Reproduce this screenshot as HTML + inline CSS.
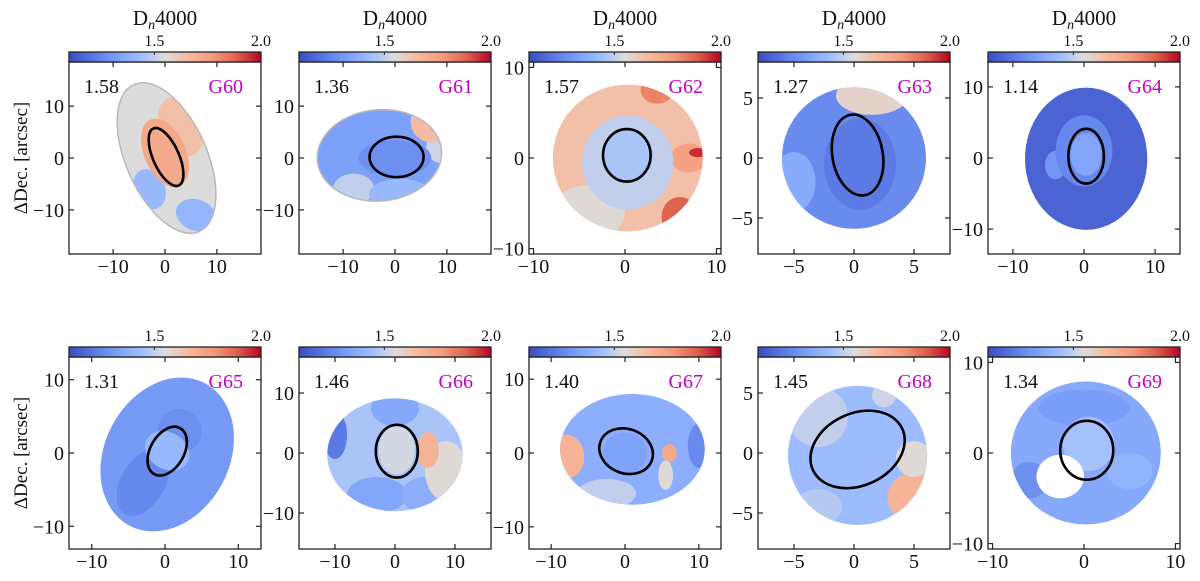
<!DOCTYPE html>
<html><head><meta charset="utf-8">
<style>
html,body{margin:0;padding:0;background:#fff;}
svg{display:block;font-family:"Liberation Serif","DejaVu Serif",serif;}
</style></head>
<body>
<svg id="fig" width="1200" height="581" viewBox="0 0 1200 581" xmlns="http://www.w3.org/2000/svg">
<defs>
<linearGradient id="cw" x1="0" x2="1" y1="0" y2="0">
<stop offset="0" stop-color="#3b4cc0"/><stop offset="0.125" stop-color="#5977e3"/>
<stop offset="0.25" stop-color="#7b9ff9"/><stop offset="0.375" stop-color="#9ebeff"/>
<stop offset="0.5" stop-color="#dddcdc"/><stop offset="0.625" stop-color="#f7b89c"/>
<stop offset="0.75" stop-color="#f49a7b"/><stop offset="0.875" stop-color="#de604d"/>
<stop offset="1" stop-color="#b40426"/>
</linearGradient>
</defs>
</svg>
<script>
const galaxyNames=["G60","G61","G62","G63","G64","G65","G66","G67","G68","G69"];
const medianValues=["1.58","1.36","1.57","1.27","1.14","1.31","1.46","1.40","1.45","1.34"];
const axisLimits=[18.5,18.5,10.5,8,13.5,13.1,16,13,8,10.5];
const yAxisLimits=[18.5,18.5,10.6,8,13.5,13.1,16,13,8,10.6];
const xTickValues=[[-10,0,10],[-10,0,10],[-10,0,10],[-5,0,5],[-10,0,10],[-10,0,10],[-10,0,10],[-10,0,10],[-5,0,5],[-10,0,10]];
const cbarTickValues=[1.5,2.0];
const cbarRange=[1.1,2.0];
// outline: [cx,cy,rx,ry,angle]
const outlines=[[0.3,0,15.5,7.8,-66],[-3,0.5,12,8.8,5],[0.3,0,8.2,8.1,0],[0,0,6,5.9,0],[0.3,-0.1,8.6,10,0],[0.3,-0.2,11,8.5,62],[0,-0.3,11.3,9.4,0],[1,0.5,9.8,7.5,0],[0.3,-0.2,5.8,5.8,0],[0.2,0,8.2,7.9,0]];
const baseValues=[1.55,1.33,1.64,1.27,1.16,1.31,1.46,1.38,1.43,1.36];
// patches: [cx,cy,rx,ry,angle,value]
const patchList=[
 [[3,6,6,4,-66,1.64],[-3,-6,4,3,-66,1.42],[6,-11,4,3,-20,1.41],[0,1,7,4,-66,1.72]],
 [[-8,-6,4,3,0,1.50],[1,-7,6,3,0,1.42],[9,2,3,3,0,1.52],[7,7,4,4,0,1.65],[13.8,3.2,1.1,1.1,0,1.65],[0,0,7,3.5,0,1.28]],
 [[-4,-6,4,3,0,1.56],[3.5,7.5,1.8,1.5,0,1.82],[6,-6.5,2,2.2,0,1.88],[7,0,2,1.6,0,1.75],[8,0.6,1,0.5,0,1.95],[0.3,-0.5,5,5.2,0,1.50],[0.3,0.3,2.8,3,0,1.46]],
 [[1.5,5.2,3,1.6,0,1.58],[-5,-2,1.8,2.5,0,1.37],[0.5,-0.5,3,3.8,0,1.22]],
 [[-4,-1,1.5,2,0,1.30],[0,1,4,5,0,1.26],[0.3,0.5,2.2,3,0,1.35]],
 [[-3,-4,5,3,60,1.26],[2,3,3,3,0,1.28],[0.3,0.3,2.5,3.2,60,1.42]],
 [[-10,3,2,4,0,1.22],[0,7.5,4,3,0,1.36],[-3,-7,5,3,0,1.35],[5,-7,4,3,0,1.38],[8.5,-3,3.5,5,0,1.56],[5.5,0.5,1.8,3,0,1.68],[0.3,0.5,3,4,0,1.53]],
 [[-8,-0.5,2.5,3,0,1.68],[10,1,1.5,3,0,1.27],[-2.5,-5.5,4,2,0,1.50],[6,0,1,1.2,0,1.72],[5.5,-3,1,2,0,1.56],[0,0,3,2.8,0,1.34]],
 [[-3,3,2.5,2.5,0,1.50],[-3,-4.5,2,1.5,0,1.48],[4.8,-3.7,2,2,0,1.68],[5,-0.5,1.5,1.5,0,1.56],[2.5,4.8,1,1,0,1.52]],
 [[0,5,5,2,0,1.32],[-6,-3,2,2,0,1.28],[5,-2,2.5,2,0,1.40],[0.5,1,2.8,3,0,1.45],[-2.6,-2.6,2.6,2.4,0,null]]
];
// aperture ellipse: [cx,cy,semiMajor(x),semiMinor(y),angle]
const apertures=[[0.2,0.2,6,2.5,-66],[0.3,0.2,5.2,3.9,0],[0.2,0.3,2.6,2.9,0],[0.3,0.25,3.4,2.1,100],[0.3,0.25,2.5,3.85,0],[0.3,0.25,3.6,2.3,60],[0.3,0.3,3.5,4.4,0],[0.15,0.25,3.7,3.0,-20],[0.3,0.3,4.1,3.0,25],[0.3,0.3,2.9,3.25,0]];

const panelX=[69,299,529,758,988];
const rowY=[62,357];
const W=192,H=192;
const NS="http://www.w3.org/2000/svg";
const svg=document.getElementById('fig');
function mk(tag,attrs,parent){const e=document.createElementNS(NS,tag);for(const k in attrs)e.setAttribute(k,attrs[k]);(parent||svg).appendChild(e);return e;}
function lerp(a,b,t){return a+(b-a)*t;}
const stops=[[0,[59,76,192]],[0.125,[89,119,227]],[0.25,[123,159,249]],[0.375,[158,190,255]],[0.5,[221,220,220]],[0.625,[247,184,156]],[0.75,[244,154,123]],[0.875,[222,96,77]],[1,[180,4,38]]];
function cmap(v){let t=(v-cbarRange[0])/(cbarRange[1]-cbarRange[0]);t=Math.max(0,Math.min(1,t));
 for(let i=0;i<stops.length-1;i++){if(t<=stops[i+1][0]){const f=(t-stops[i][0])/(stops[i+1][0]-stops[i][0]);const a=stops[i][1],b=stops[i+1][1];return `rgb(${Math.round(lerp(a[0],b[0],f))},${Math.round(lerp(a[1],b[1],f))},${Math.round(lerp(a[2],b[2],f))})`;}}
 return 'rgb(180,4,38)';}
function fmt(v){return v<0?'\u2212'+Math.abs(v):String(v);}

for(let p=0;p<10;p++){
 const row=p<5?0:1,col=p%5;
 const x0=panelX[col],y0=rowY[row];
 const lx=axisLimits[p],ly=yAxisLimits[p];
 const sx=x=>x0+(x+lx)/(2*lx)*W;
 const sy=y=>y0+(ly-y)/(2*ly)*H;
 const kx=W/(2*lx),ky=H/(2*ly);
 const g=mk('g',{});
 
 
 const cid='clip'+p;
 const cp=mk('clipPath',{id:cid},g);
 const o=outlines[p];
 mk('ellipse',{cx:sx(o[0]),cy:sy(o[1]),rx:o[2]*kx,ry:o[3]*ky,transform:`rotate(${-o[4]} ${sx(o[0])} ${sy(o[1])})`},cp);
 const mg=mk('g',{'clip-path':`url(#${cid})`},g);
 
 
 mk('rect',{x:x0,y:y0,width:W,height:H,fill:cmap(baseValues[p])},mg);
 for(const pt of patchList[p]){
  const e=mk('ellipse',{cx:sx(pt[0]),cy:sy(pt[1]),rx:pt[2]*kx,ry:pt[3]*ky,transform:`rotate(${-pt[4]} ${sx(pt[0])} ${sy(pt[1])})`,fill:pt[5]===null?'#fff':cmap(pt[5])},mg);
  
  
 }
 if(p<2){mk('ellipse',{cx:sx(o[0]),cy:sy(o[1]),rx:o[2]*kx,ry:o[3]*ky,transform:`rotate(${-o[4]} ${sx(o[0])} ${sy(o[1])})`,fill:'none',stroke:'#b8b8b8','stroke-width':1.5},g);}
 const a=apertures[p];
 const ap=mk('ellipse',{cx:sx(a[0]),cy:sy(a[1]),rx:a[2]*kx,ry:a[3]*ky,transform:`rotate(${-a[4]} ${sx(a[0])} ${sy(a[1])})`,fill:'none',stroke:'#000','stroke-width':2.6},g);
 
 
 const fr=mk('rect',{x:x0,y:y0,width:W,height:H,fill:'none',stroke:'#222','stroke-width':1.3},g);
 
 
 for(const t of xTickValues[p]){
  const X=sx(t);
  mk('line',{x1:X,x2:X,y1:y0+H,y2:y0+H-5,stroke:'#222','stroke-width':1.2},g);
  mk('line',{x1:X,x2:X,y1:y0,y2:y0+5,stroke:'#222','stroke-width':1.2},g);
  const tl=mk('text',{x:X,y:y0+H+19,'font-size':20,'text-anchor':'middle',fill:'#111'},g);
  tl.textContent=fmt(t);
  
  
  const Y=sy(t);
  if(Y>=y0-1&&Y<=y0+H+1){
   mk('line',{x1:x0,x2:x0+5,y1:Y,y2:Y,stroke:'#222','stroke-width':1.2},g);
   mk('line',{x1:x0+W,x2:x0+W-5,y1:Y,y2:Y,stroke:'#222','stroke-width':1.2},g);
   const yl=mk('text',{x:x0-5,y:Y+7,'font-size':20,'text-anchor':'end',fill:'#111'},g);
   yl.textContent=fmt(t);
   
   
  }
 }
 const cb=mk('rect',{x:x0,y:y0-10,width:W,height:10,fill:'url(#cw)',stroke:'#222','stroke-width':1.3},g);
 
 
 for(const c of cbarTickValues){
  const X=x0+(c-cbarRange[0])/(cbarRange[1]-cbarRange[0])*W;
  mk('line',{x1:X,x2:X,y1:y0-10,y2:y0-7,stroke:'#222','stroke-width':1},g);
  const ct=mk('text',{x:X,y:y0-16,'font-size':16,'text-anchor':'middle',fill:'#111'},g);
  ct.textContent=c.toFixed(1);
  
  
 }
 if(row===0){
  const tt=mk('text',{x:x0+W/2,y:25,'font-size':21,'text-anchor':'middle',fill:'#111'},g);
  tt.innerHTML='D<tspan font-style="italic" font-size="14" dy="4">n</tspan><tspan dy="-4">4000</tspan>';
  
  
 }
 const mv=mk('text',{x:x0+15,y:y0+31,'font-size':20,fill:'#111'},g);
 mv.textContent=medianValues[p];
 
 
 const gn=mk('text',{x:x0+W-18,y:y0+31,'font-size':20,'text-anchor':'end',fill:'#c400c4'},g);
 gn.textContent=galaxyNames[p];
 
 
}
for(const r of [0,1]){
 const cy=rowY[r]+H/2;
 const yt=mk('text',{x:27,y:cy,'font-size':19,'text-anchor':'middle',fill:'#111',transform:`rotate(-90 27 ${cy})`});
 yt.textContent='\u0394Dec.  [arcsec]';
 
 
}
</script>
</body></html>
